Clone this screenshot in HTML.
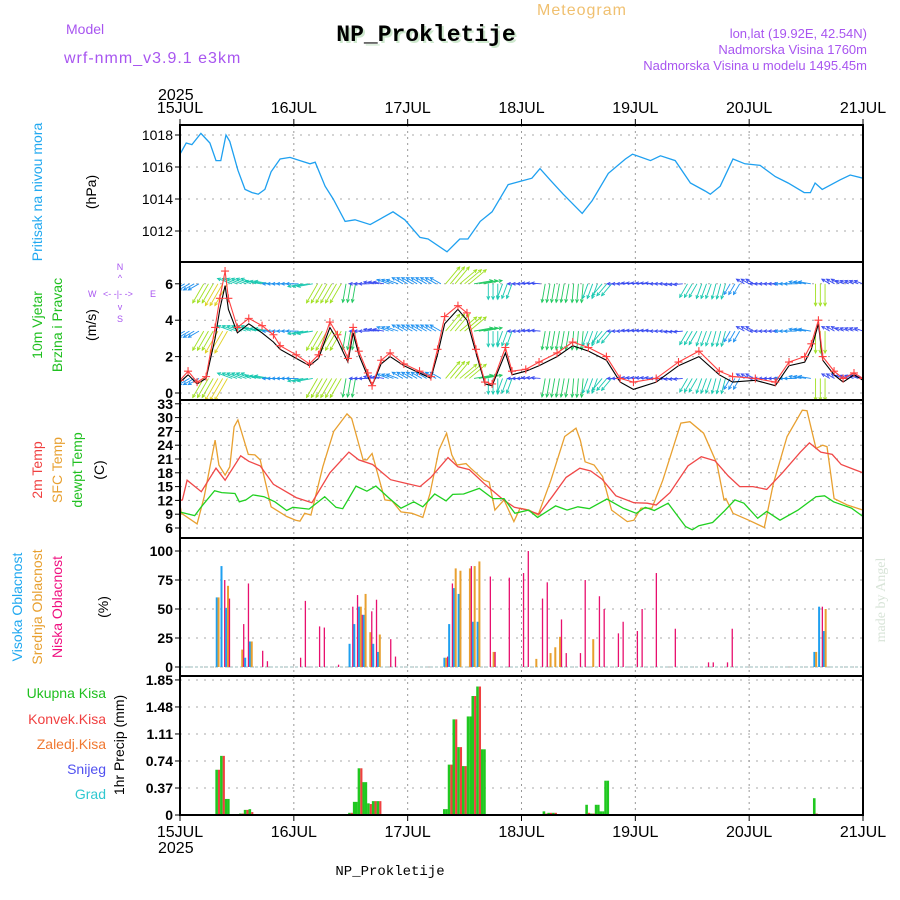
<!DOCTYPE html>
<html><head><meta charset="utf-8"><style>
html,body{margin:0;padding:0;background:#fff;}
svg{display:block;font-family:"Liberation Sans",sans-serif;}
</style></head><body>
<svg id="chart" width="900" height="900" viewBox="0 0 900 900" xmlns="http://www.w3.org/2000/svg">
<rect x="0" y="0" width="900" height="900" fill="#fff"/>
<text x="582" y="15" font-size="16" fill="#f0c070" text-anchor="middle" letter-spacing="1">Meteogram</text>
<text x="66" y="34" font-size="14" fill="#a855f0">Model</text>
<text x="64" y="63" font-size="16" fill="#a855f0" letter-spacing="1">wrf-nmm_v3.9.1 e3km</text>
<text x="428" y="43" font-size="23" font-weight="bold" font-family="Liberation Mono, monospace" fill="#cde8cd" text-anchor="middle">NP_Prokletije</text>
<text x="426" y="41" font-size="23" font-weight="bold" font-family="Liberation Mono, monospace" fill="#000" text-anchor="middle">NP_Prokletije</text>
<text x="867" y="38" font-size="13" fill="#a855f0" text-anchor="end">lon,lat (19.92E, 42.54N)</text>
<text x="867" y="54" font-size="13" fill="#a855f0" text-anchor="end">Nadmorska Visina 1760m</text>
<text x="867" y="70" font-size="13" fill="#a855f0" text-anchor="end">Nadmorska Visina u modelu 1495.45m</text>
<text x="158" y="100" font-size="16" fill="#000">2025</text>
<text x="158" y="853" font-size="16" fill="#000">2025</text>
<text x="390" y="875" font-size="14" font-family="Liberation Mono, monospace" fill="#000" text-anchor="middle">NP_Prokletije</text>
<text transform="translate(885,600) rotate(-90)" font-size="14" fill="#d8e4d8" text-anchor="middle" font-family="Liberation Serif, serif">made by Angel</text>

<text transform="translate(42,192) rotate(-90)" font-size="14" fill="#20a8f0" text-anchor="middle">Pritisak na nivou mora</text>
<text transform="translate(96,192) rotate(-90)" font-size="14" fill="#000" text-anchor="middle">(hPa)</text>
<text transform="translate(42,325) rotate(-90)" font-size="14" fill="#20c020" text-anchor="middle">10m Vjetar</text>
<text transform="translate(62,325) rotate(-90)" font-size="14" fill="#20c020" text-anchor="middle">Brzina i Pravac</text>
<text transform="translate(96,325) rotate(-90)" font-size="14" fill="#000" text-anchor="middle">(m/s)</text>
<g font-size="9" fill="#a855f0">
<text x="120" y="270" text-anchor="middle">N</text><text x="120" y="281" text-anchor="middle">^</text>
<text x="88" y="297">W</text><text x="103" y="297">&lt;- -|- -&gt;</text><text x="150" y="297">E</text>
<text x="120" y="310" text-anchor="middle">v</text><text x="120" y="322" text-anchor="middle">S</text>
</g>
<text transform="translate(42,470) rotate(-90)" font-size="14" fill="#f04040" text-anchor="middle">2m Temp</text>
<text transform="translate(62,470) rotate(-90)" font-size="14" fill="#e8a030" text-anchor="middle">SFC Temp</text>
<text transform="translate(82,470) rotate(-90)" font-size="14" fill="#20c020" text-anchor="middle">dewpt Temp</text>
<text transform="translate(104,470) rotate(-90)" font-size="14" fill="#000" text-anchor="middle">(C)</text>
<text transform="translate(22,607) rotate(-90)" font-size="14" fill="#20a8f0" text-anchor="middle">Visoka Oblacnost</text>
<text transform="translate(42,607) rotate(-90)" font-size="14" fill="#e8a030" text-anchor="middle">Srednja Oblacnost</text>
<text transform="translate(62,607) rotate(-90)" font-size="14" fill="#f01080" text-anchor="middle">Niska Oblacnost</text>
<text transform="translate(108,607) rotate(-90)" font-size="14" fill="#000" text-anchor="middle">(%)</text>
<g font-size="14" text-anchor="end">
<text x="106" y="698" fill="#20c020">Ukupna Kisa</text>
<text x="106" y="724" fill="#f04040">Konvek.Kisa</text>
<text x="106" y="749" fill="#f07830">Zaledj.Kisa</text>
<text x="106" y="774" fill="#5050f0">Snijeg</text>
<text x="106" y="799" fill="#30c8d0">Grad</text>
</g>
<text transform="translate(124,745) rotate(-90)" font-size="14" fill="#000" text-anchor="middle">1hr Precip (mm)</text>
<g id="layer"></g>
</svg>
<script>
// ---- data ----
const dayLabels = ["15JUL","16JUL","17JUL","18JUL","19JUL","20JUL","21JUL"];
const presTicks = [1012,1014,1016,1018];
const windTicks = [0,2,4,6];
const tempTicks = [6,9,12,15,18,21,24,27,30,33];
const cloudTicks = [0,25,50,75,100];
const precipTicks = [0,0.37,0.74,1.11,1.48,1.85];

const presHours = [0,1.3,2.5,4.4,6.3,7.6,8.6,9.7,10.5,12.2,13.7,15.2,16.5,17.9,19.2,21.1,23.2,25.3,27.4,28.5,30.6,32.3,34.8,36.9,40.1,44.9,47.4,50.6,52.3,56.3,59,60.7,63.3,65.8,69.2,71.7,74.2,75.9,78,80.8,84.8,86.9,90.3,93.9,95.4,99.2,101.3,104.4,107.6,110.7,111.8,113.9,116.6,119.1,122.3,125.5,128.2,131.6,132.9,133.9,135.4,139.2,141.3,144];
const presVals = [1016.8,1017.5,1017.4,1018.1,1017.5,1016.4,1016.4,1018,1017.6,1015.8,1014.6,1014.4,1014.3,1014.6,1015.7,1016.5,1016.6,1016.4,1016.2,1016.3,1014.8,1014,1012.6,1012.7,1012.4,1013.2,1012.7,1011.6,1011.5,1010.7,1011.5,1011.5,1012.6,1013.2,1014.9,1015.1,1015.3,1015.9,1015.2,1014.3,1013.1,1013.9,1015.6,1016.5,1016.8,1016.4,1016.7,1016.4,1015,1014.5,1014.3,1014.8,1016.5,1016.2,1016.1,1015.4,1015,1014.4,1014.4,1015,1014.6,1015.2,1015.5,1015.3];

const gustHours = [0,1.7,3.6,5.5,7.4,8.4,9.5,10.2,12.1,14.5,17.3,19.7,21.1,24.5,27.3,29.2,31.6,33.2,35.4,36.5,37.7,39.6,40.5,42.4,44.3,47.2,50.5,52.9,54.3,55.8,58.6,60.5,62.4,64.3,65.8,68.6,70,72.9,75.7,79.5,82.8,86.1,89.9,92.8,95.6,100.4,105.1,109.4,113.7,116.5,121.3,125.5,128.4,131.7,133.1,134.6,135.5,137.9,139.8,142.1,144];
const gustVals = [0.7,1.2,0.6,0.9,3.6,5.2,6.7,5.2,3.6,4.1,3.7,3.2,2.6,2.1,1.6,2.1,3.9,3.2,1.9,3.6,2.3,1.1,0.4,1.8,2.2,1.6,1.2,0.9,2.4,4.2,4.8,4.4,2.4,0.6,0.5,2.5,1.2,1.3,1.7,2.2,2.8,2.5,2.0,0.8,0.6,0.8,1.7,2.3,1.2,0.9,0.8,0.6,1.7,2.0,2.7,4.0,2.0,1.2,0.8,1.1,0.8];
const speedVals = [0.6,1.0,0.5,0.8,3.0,4.6,5.9,4.6,3.3,3.8,3.3,2.8,2.4,1.9,1.5,1.9,3.6,2.9,1.7,3.3,2.1,0.9,0.4,1.6,2.0,1.5,1.1,0.8,2.1,3.8,4.6,4.0,2.2,0.5,0.4,2.2,1.0,1.2,1.5,2.0,2.6,2.3,1.8,0.6,0.2,0.6,1.5,2.0,1.0,0.6,0.7,0.4,1.5,1.7,2.4,3.8,1.8,1.0,0.6,1.0,0.7];

const arrowHours = [0,3,6,9,12,15,18,21,24,27,30,33,36,39,42,45,48,51,54,57,60,63,66,69,72,75,78,81,84,87,90,93,96,99,102,105,108,111,114,117,120,123,126,129,132,135,138,141,144];
const arrowDir = [60,60,30,30,110,110,100,90,90,80,30,30,10,90,100,110,120,120,120,220,230,260,0,20,90,95,10,10,5,20,40,90,95,95,90,85,30,20,15,30,120,90,90,90,100,0,120,110,110];
const arrowSpd = [2,2,5,6,3,3,3,2,2,3,5,5,4,1.5,1.5,2,2,2,2,5,5,4,3,3,1,1,4,4,4,3,3,1,1,1,1,1,3,3,3,2,1,1,1,2,2,5,1,1,1];
const arrowRows = [6,3.4,0.8];

const t2Hours = [0,0.5,1.5,4.5,7.6,9.5,12.8,14.5,16.9,19.7,24.5,27.8,31.6,35.6,37.7,40.6,44.4,47.2,50.6,52.9,56.5,58.6,61,64.3,68.1,70.5,72.9,75.7,78.6,81.4,84.3,86.6,89,91.9,95.7,98.5,100.4,103.3,107.1,109.9,112.8,115.6,118,120.8,123.7,127,130.8,132.7,135.1,137.5,139.4,142.2,144];
const t2Vals = [12,12.1,16.4,13.9,19,16.4,21.7,20.5,19.5,15.5,12.6,11.5,18,22.5,20.8,19.8,16.5,15.8,15,17,21.3,19.3,18.7,15.5,12.2,10.5,10,9,13,17,19,18.4,16.6,13,11.5,11.4,11,13.7,19.5,21.5,20.6,17.3,15,15,14.4,18,22.5,24.5,22.5,22,19.8,18.7,18];
const sfcHours = [0,0.3,3.6,5.1,7.4,8.2,9.5,10.5,11.4,12.2,14.4,15.8,16.9,19.2,22.5,24.4,25.3,26.3,27.6,30.1,32.4,35.2,36.2,38.6,39.4,40.5,43.2,44.7,46.6,48.9,51.2,52.7,54.6,56.2,57.3,58.4,60.3,61.3,64.1,65.2,66.4,68.3,70.4,71.7,73.6,75.5,78.2,81.1,83.5,84.4,85.4,87.3,89.1,91,94.3,95.7,97.2,99.5,101.8,105.6,107.5,110.4,113.2,114.7,115.1,116.6,119.9,123.2,125.1,128,131.2,132.2,134.1,135.5,136.4,137.9,140.7,144];
const sfcVals = [11,9.2,6.9,12.8,25.1,19.7,17.5,19.3,28,29.5,22,21.9,20.8,10.6,8.5,7.7,7.5,9.2,8.8,19.3,27,30.8,29.8,20.8,20.8,22.2,12.1,11.9,9.5,9.2,8.3,13.5,23,26.6,21.9,19.7,20,19,16.4,16,9.9,12.1,7.4,10.3,9.9,8.8,16.4,25.9,27.7,25.1,20.4,19.7,17.2,9.9,7.4,7.7,10.3,10.3,16.4,28.8,29.1,26.6,20,12.1,12.4,9.2,7.7,6.1,15.7,25.9,31.6,31.5,23.3,24,23.7,12.4,11,9.9];
const dewHours = [0,0.3,3.1,4.5,7.3,8.8,11.6,12.5,13.9,15.4,17.7,20,22.5,23.8,27.2,30.5,32.9,34.3,37.1,39.4,41.3,44.2,46.6,49.3,51.2,53.7,56.1,57.5,59.8,63.1,66,68.3,70.6,73.5,75.4,79.2,81.6,83.9,86.3,90,93.4,96.2,98.1,100,102.9,106.6,108,109.4,112.3,114.7,117,118.9,121.8,123.7,126.5,130.3,134.1,135.9,137.8,141.6,144];
const dewVals = [9.5,9.4,8.7,10.6,14.1,13.7,13.5,11.7,12.1,13.2,12.8,11.7,9.8,10.5,10.1,12.8,10.5,10.2,15.1,14,15.1,12.4,10.3,11.7,10.6,13.4,11.9,13.3,13.4,14.6,12.4,12.4,9.2,9.9,8.3,10.8,9.9,10.6,10.2,12.3,10.3,9.2,10.5,9.8,11.4,6.3,5.6,6.5,7.2,9.6,12.1,11.4,8.1,9.6,7.7,9.9,12.8,13,11.7,10.3,8.5];

const cloudHours = [8,9,10,13,14,15,17,18,25,26,29,30,33,36,37,38,39,40,41,42,44,45,56,57,58,59,61,62,63,65,66,69,72,73,75,76,77,78,79,80,81,84,85,87,88,89,92,93,96,97,100,104,111,112,115,116,134,135,136];
const cloudHigh = [60,87,51,0,8,22,0,0,0,0,0,0,0,20,37,52,45,0,20,13,0,0,8,37,68,63,0,39,39,0,0,0,0,0,0,0,0,0,0,0,0,0,0,0,0,0,0,0,0,0,0,0,0,0,0,0,13,52,31];
const cloudMid = [60,0,70,15,0,22,0,0,0,0,0,0,0,0,0,52,63,30,0,28,0,0,8,0,85,83,85,87,91,0,13,0,0,0,7,0,0,12,17,26,0,0,0,24,0,0,0,0,0,0,0,0,0,0,0,0,13,0,50];
const cloudLow = [0,75,59,37,72,0,14,5,8,57,35,34,2,52,62,45,0,48,58,0,24,9,9,72,0,0,87,0,0,78,13,77,81,100,0,59,73,0,0,41,12,12,75,0,61,50,29,39,31,50,81,33,4,4,4,33,0,52,0];

const precipHours = [8,9,10,13,14,15,36,37,38,39,40,41,42,56,57,58,59,60,61,62,63,64,65,69,73,75,77,78,79,86,87,88,89,90,134];
const precipTotal = [0.62,0.81,0.22,0.02,0.07,0.08,0.03,0.18,0.64,0.45,0.16,0.19,0.19,0.08,0.69,1.31,0.93,0.67,1.35,1.63,1.76,0.90,0.01,0.01,0.01,0.01,0.05,0.03,0.03,0.14,0.02,0.14,0.05,0.47,0.23];
const precipConv = [0.62,0.81,0,0.02,0.07,0.04,0.03,0,0.64,0,0.15,0.19,0.19,0,0.69,1.31,0.93,0.67,0,1.63,1.76,0,0.01,0,0,0,0.02,0.03,0.03,0.03,0.02,0,0,0,0.02];

// ---- scales ----
const X0 = 180, X1 = 863;
const xh = h => X0 + h * (X1 - X0) / 144;
const yP = p => 135 + (1018 - p) * 16;
const yW = v => 393 - v * 18.2;
const yT = t => 528 - (t - 6) * 4.6;
const yC = c => 667 - c * 1.16;
const yR = r => 815 - r * 73;
const panels = [[125,262],[262,400],[400,538],[538,676],[676,815]];
const NS = "http://www.w3.org/2000/svg";
const layer = document.getElementById("layer");
function mk(tag, attrs, parent) {
  const e = document.createElementNS(NS, tag);
  for (const k in attrs) e.setAttribute(k, attrs[k]);
  (parent || layer).appendChild(e);
  return e;
}
function txt(x, y, s, attrs) {
  const e = mk("text", Object.assign({x: x, y: y}, attrs));
  e.textContent = s;
  return e;
}
function clipFor(i) {
  const cp = mk("clipPath", {id: "clip" + i});
  mk("rect", {x: X0, y: panels[i][0], width: X1 - X0, height: panels[i][1] - panels[i][0]}, cp);
  return mk("g", {"clip-path": "url(#clip" + i + ")"});
}

panels.forEach((p, i) => {
  for (let d = 1; d < 6; d++) {
    const x = xh(d * 24);
    const l = mk("line", {x1: x, x2: x, y1: p[0], y2: p[1], stroke: "#999", "stroke-dasharray": "2,4"});
    
    
  }
});
function hgrid(ticks, yf, fmt, name, bold) {
  ticks.forEach(t => {
    const y = yf(t);
    const l = mk("line", {x1: X0, x2: X1, y1: y, y2: y, stroke: "#aaa", "stroke-dasharray": "2,6"});
    
    
    mk("line", {x1: X0 - 5, x2: X0, y1: y, y2: y, stroke: "#000"});
    const tl = txt(X0 - 7, y + 5, fmt(t), {"font-size": 14, "font-weight": bold ? "bold" : "normal", "text-anchor": "end", fill: "#000"});
    
    
  });
}
hgrid(presTicks, yP, t => String(t), "pressure", false);
hgrid(windTicks, yW, t => String(t), "wind", true);
hgrid(tempTicks, yT, t => String(t), "temp", true);
hgrid(cloudTicks, yC, t => String(t), "cloud", true);
hgrid(precipTicks, yR, t => t === 0 ? "0" : t.toFixed(2), "precip", true);

dayLabels.forEach((s, d) => {
  const x = xh(d * 24);
  const a = txt(x, 113, s, {"font-size": 16, "text-anchor": "middle", fill: "#000"});
  
  
  const b = txt(x, 837, s, {"font-size": 16, "text-anchor": "middle", fill: "#000"});
  
  
  mk("line", {x1: x, x2: x, y1: 119, y2: 125, stroke: "#000"});
  mk("line", {x1: x, x2: x, y1: 815, y2: 821, stroke: "#000"});
});

function line(hours, vals, yf, g, color, name, w) {
  const d = hours.map((h, i) => (i ? "L" : "M") + xh(h).toFixed(1) + "," + yf(vals[i]).toFixed(1)).join("");
  const p = mk("path", {d: d, fill: "none", stroke: color, "stroke-width": w || 1.5}, g);
  
  
  return p;
}

const g0 = clipFor(0);
line(presHours, presVals, yP, g0, "#1ea0f0", "pressure-line", 1.3);

const g1 = clipFor(1);
function arrowColor(s) {
  const cols = ["#8a2be2","#7030e8","#3a4cf0","#1e90f0","#18b8e0","#18c8b0","#20c860","#40d020","#a0e020","#e0d020"];
  return cols[Math.max(0, Math.min(cols.length - 1, Math.round(s * 1.5)))];
}
arrowRows.forEach(r => {
  const by = yW(r);
  for (let h = 0; h <= 144; h++) {
    const k = Math.min(arrowHours.length - 1, Math.round(h / 3));
    const dir = arrowDir[k], s = arrowSpd[k];
    const len = 6 + s * 3.2;
    const ang = (dir + 180) * Math.PI / 180;
    const bx = xh(h);
    const ex = bx + Math.sin(ang) * len, ey = by - Math.cos(ang) * len;
    const c = arrowColor(s);
    const a = mk("line", {x1: bx, y1: by, x2: ex, y2: ey, stroke: c, "stroke-width": 0.9}, g1);
    
    
    const ha = Math.atan2(ey - by, ex - bx);
    const hd = "M" + (ex - 3.5 * Math.cos(ha - 0.45)) + "," + (ey - 3.5 * Math.sin(ha - 0.45)) + "L" + ex + "," + ey + "L" + (ex - 3.5 * Math.cos(ha + 0.45)) + "," + (ey - 3.5 * Math.sin(ha + 0.45));
    mk("path", {d: hd, fill: "none", stroke: c, "stroke-width": 0.9}, g1);
  }
});
line(gustHours, speedVals, yW, g1, "#000", "wind-speed-line", 1.1);
line(gustHours, gustVals, yW, g1, "#ff4040", "wind-gust-line", 1.1);
gustHours.forEach((h, i) => {
  const x = xh(h), y = yW(gustVals[i]);
  const m = mk("path", {d: `M${x-4},${y}L${x+4},${y}M${x},${y-4}L${x},${y+4}`, stroke: "#ff4040", "stroke-width": 1.1}, g1);
  
  
});

const g2 = clipFor(2);
line(sfcHours, sfcVals, yT, g2, "#e8a030", "sfc-temp-line", 1.3);
line(t2Hours, t2Vals, yT, g2, "#f04848", "temp-2m-line", 1.3);
line(dewHours, dewVals, yT, g2, "#20d020", "dewpoint-line", 1.3);

const g3 = clipFor(3);
mk("line", {x1: X0, x2: X1, y1: yC(0), y2: yC(0), stroke: "#9bb", "stroke-width": 1, "stroke-dasharray": "3,2"}, g3);
cloudHours.forEach((h, i) => {
  const x = xh(h);
  if (cloudHigh[i] > 0) {
    const b = mk("rect", {x: x - 2.2, y: yC(cloudHigh[i]), width: 2, height: yC(0) - yC(cloudHigh[i]), fill: "#1ea0f0"}, g3);
    
    
  }
  if (cloudMid[i] > 0) {
    const b = mk("rect", {x: x - 0.4, y: yC(cloudMid[i]), width: 2, height: yC(0) - yC(cloudMid[i]), fill: "#e8a030"}, g3);
    
    
  }
  if (cloudLow[i] > 0) {
    const b = mk("rect", {x: x + 1.4, y: yC(cloudLow[i]), width: 1.3, height: yC(0) - yC(cloudLow[i]), fill: "#e8106e"}, g3);
    
    
  }
});

const g4 = clipFor(4);
precipHours.forEach((h, i) => {
  const x = xh(h);
  const t = precipTotal[i], c = precipConv[i];
  const b = mk("rect", {x: x - 2.6, y: yR(t), width: 2.6, height: yR(0) - yR(t), fill: "#20c820"}, g4);
  
  
  const v = c > 0 ? c : t;
  const b2 = mk("rect", {x: x, y: yR(v), width: 2.2, height: yR(0) - yR(v), fill: c > 0 ? "#f04040" : "#20c820"}, g4);
  
  
});
mk("line", {x1: X0, x2: X1, y1: 815, y2: 815, stroke: "#000", "stroke-width": 1.5, "stroke-dasharray": "6,2"});

panels.forEach(p => {
  const r = mk("rect", {x: X0, y: p[0], width: X1 - X0, height: p[1] - p[0], fill: "none", stroke: "#000", "stroke-width": 2});
  
  
});
</script>
</body></html>
